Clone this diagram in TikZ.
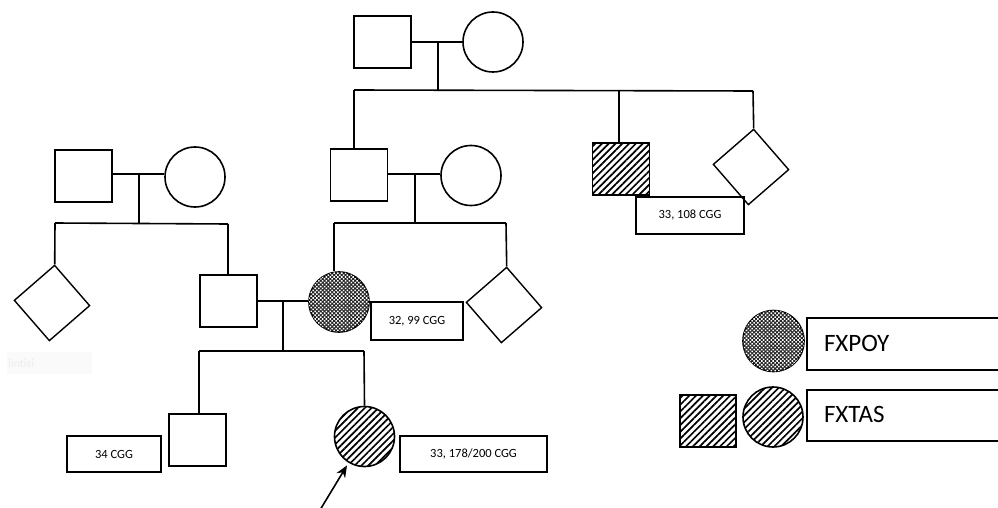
\documentclass[tikz,border=0pt]{standalone}
\usepackage{fontspec}
\setmainfont{Carlito}
\usetikzlibrary{shapes.geometric,patterns.meta,arrows.meta}
\tikzset{
  ln/.style={line width=1.6pt},
  male/.style={draw, line width=1.6pt, rectangle, minimum width=57pt, minimum height=52pt, inner sep=0pt},
  female/.style={draw, line width=1.6pt, circle, minimum size=60pt, inner sep=0pt},
  unk/.style={draw, line width=1.4pt, diamond, minimum width=76pt, minimum height=76pt, inner sep=0pt},
  hatch/.style={pattern={Lines[angle=45,distance=4.8pt,line width=1.7pt]}},
  dotfill/.style={fill=black!85, postaction={pattern={Dots[angle=45,distance=2.7pt,radius=1.08pt]}, pattern color=white}},
  lbl/.style={draw, line width=1.6pt, rectangle, inner sep=0pt, font=\fontsize{12.5}{14}\selectfont},
  leg/.style={draw, line width=1.6pt, rectangle, inner sep=0pt, anchor=north west, font=\fontsize{25}{28}\selectfont}
}
\begin{document}
\begin{tikzpicture}[x=1pt,y=-1pt]
\useasboundingbox (0,0) rectangle (998,508);
\fill[white] (0,0) rectangle (998,508);

% faint artifact box
\node[fill=gray!4, minimum width=85pt, minimum height=22pt, inner sep=0pt, anchor=north west] (ghost) at (7,352) {};
\node[text=gray!14, font=\fontsize{12}{14}\selectfont, anchor=west, inner sep=0pt] (ghosttxt) at (8,363) {lintisi};

% ---- generation I ----
\node[male] (gf1) at (382.5,42) {};
\node[female] (gm1) at (493,42) {};
\coordinate (c1) at (438,42);
\coordinate (s1) at (438,90);
\draw[ln] (gf1.east) -- (gm1.west);
\draw[ln] (c1) -- (s1);

% ---- generation II (paternal side of mother) ----
\node[male] (u1) at (359,175) {};
\node[female] (w1) at (471,175.5) {};
\node[male, hatch] (a1) at (621,169) {};
\node[unk, rotate=-4] (d1) at (751,167) {};
\node[lbl, minimum width=108pt, minimum height=37pt] (l1) at (690,215.5) {33, 108 CGG};

\coordinate (k1) at (354,90);
\coordinate (k2) at (619,90);
\coordinate (k3) at (753,91);
\draw[ln] (k1) -- (k3);
\draw[ln] (k1) -- (k1 |- u1.north);
\draw[ln] (k2) -- (k2 |- a1.north);
\draw[ln] (k3) -- (d1.north);

\coordinate (c2) at (415,174);
\coordinate (s2) at (415,223);
\draw[ln] (u1.east |- c2) -- (w1.west |- c2);
\draw[ln] (c2) -- (s2);

% ---- left couple ----
\node[male] (gf2) at (83.5,176) {};
\node[female] (gm2) at (195,177) {};
\coordinate (c3) at (139,174);
\coordinate (s3) at (139,223);
\draw[ln] (gf2.east |- c3) -- (gm2.west |- c3);
\draw[ln] (c3) -- (s3);

% ---- generation III ----
\node[unk, rotate=-4] (d2) at (52,303) {};
\node[male] (f) at (228.5,301) {};
\node[female, dotfill] (m) at (339,302) {};
\node[lbl, minimum width=92pt, minimum height=38pt] (l2) at (417,321) {32, 99 CGG};
\node[unk, rotate=-4] (d3) at (504,305) {};

\coordinate (k4) at (55,223);
\coordinate (k5) at (228,224);
\draw[ln] (k4) -- (k5);
\draw[ln] (k4) -- (d2.north);
\draw[ln] (k5) -- (k5 |- f.north);

\coordinate (k6) at (334,223);
\coordinate (k7) at (506,223);
\draw[ln] (k6) -- (k7);
\draw[ln] (k6) -- (k6 |- m.north);
\draw[ln] (k7) -- (d3.north);

\coordinate (c4) at (283,301);
\coordinate (s4) at (283,351);
\draw[ln] (f.east) -- (m.west |- c4);
\draw[ln] (c4) -- (s4);

% ---- generation IV ----
\node[male] (s) at (197.5,440) {};
\node[lbl, minimum width=94pt, minimum height=36pt] (l3) at (114,454) {34 CGG};
\node[female, hatch] (p) at (364.5,436.5) {};
\node[lbl, minimum width=147pt, minimum height=36pt] (l4) at (473.5,454) {33, 178/200 CGG};

\coordinate (k8) at (199,351);
\coordinate (k9) at (364,351);
\draw[ln] (k8) -- (k9);
\draw[ln] (k8) -- (k8 |- s.north);
\draw[ln] (k9) -- (p.north);

% proband arrow
\coordinate (atail) at (320,510);
\draw[ln, -{Stealth[length=12pt,width=10pt]}, shorten >=3pt] (atail) -- (p);

% ---- legend ----
\node[female, dotfill, minimum size=61pt] (lc1) at (773.5,341) {};
\node[leg, minimum width=204pt, minimum height=52pt] (lb1) at (806,317) {};
\node[anchor=west, inner sep=0pt, font=\fontsize{25}{28}\selectfont] (lt1) at (824,343) {FXPOY};
\node[male, hatch, minimum width=56pt] (lsq) at (708,421) {};
\node[female, hatch] (lc2) at (773,417) {};
\node[leg, minimum width=204pt, minimum height=51pt] (lb2) at (806,389) {};
\node[anchor=west, inner sep=0pt, font=\fontsize{25}{28}\selectfont] (lt2) at (824,414) {FXTAS};
\end{tikzpicture}
\end{document}
